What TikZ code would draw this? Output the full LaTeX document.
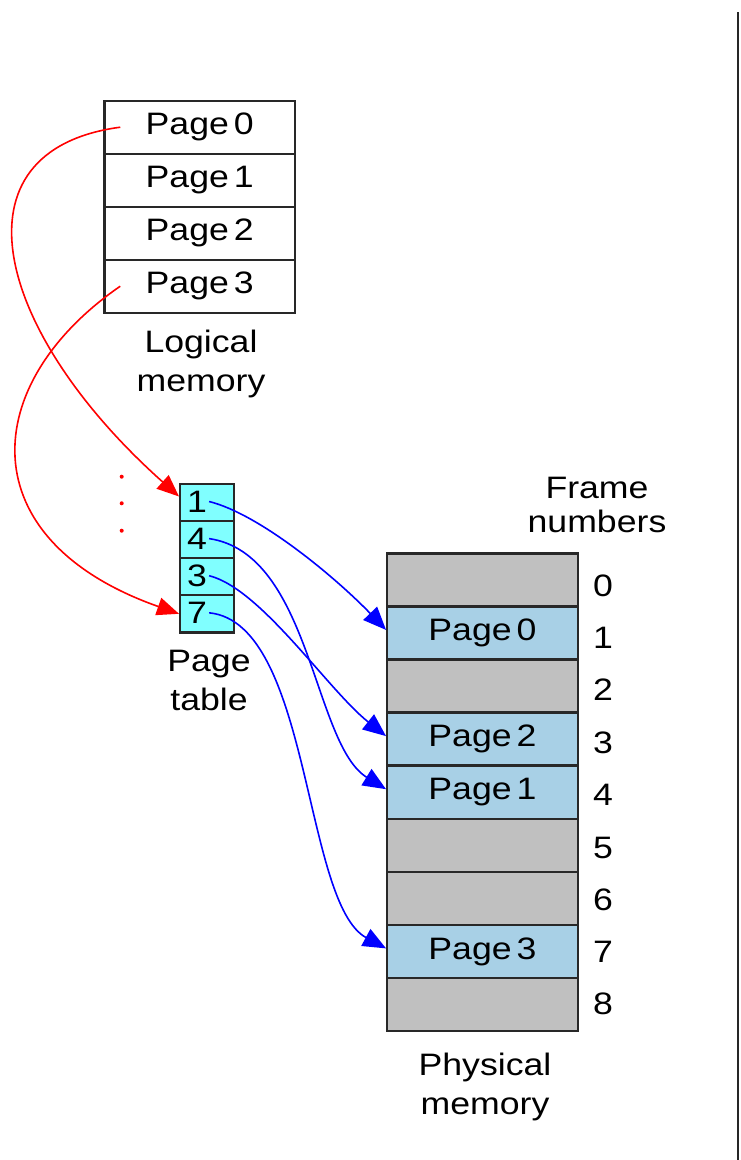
\documentclass[tikz,border=0pt]{standalone}
\usepackage{fontspec}
\setmainfont{Liberation Sans}[FakeStretch=1.15]
\usetikzlibrary{arrows.meta,calc}
\definecolor{bordc}{RGB}{40,40,40}
\definecolor{ptcyan}{RGB}{128,255,255}
\definecolor{pgray}{RGB}{192,192,192}
\definecolor{pblue}{RGB}{168,208,230}
\newcommand\myfs{\fontsize{31}{39}\selectfont\spaceskip=5pt\relax}
\newcommand\myfsb{\fontsize{31}{34}\selectfont}
\begin{document}
\begin{tikzpicture}[x=1pt,y=-1pt,
  box/.style={draw=bordc, line width=2.4pt, minimum width=190.5pt, minimum height=53pt, inner sep=0pt, font=\myfs},
  lbox/.style={box, fill=white},
  freebox/.style={box, fill=pgray},
  usedbox/.style={box, fill=pblue},
  ptcell/.style={draw=bordc, line width=2.4pt, fill=ptcyan, minimum width=54pt, minimum height=37.1pt, inner sep=0pt},
  digit/.style={font=\myfs, inner sep=0pt},
  lbl/.style={font=\myfs, inner sep=0pt, align=center, anchor=north},
  reddot/.style={circle, fill=red, inner sep=0pt, minimum size=4pt},
  redarr/.style={draw=red, line width=1.6pt, -{Triangle[length=22pt,width=18pt]}},
  bluearr/.style={draw=blue, line width=1.6pt, -{Triangle[length=23pt,width=19pt]}}
]
\useasboundingbox (0,0) rectangle (740,1160);

% Logical memory
\node[lbox] (L0) at (199.7,127.2) {Page 0};
\node[lbox] (L1) at (199.7,180.2) {Page 1};
\node[lbox] (L2) at (199.7,233.2) {Page 2};
\node[lbox] (L3) at (199.7,286.2) {Page 3};
\node[lbl] (Llbl) at (201,330) {Logical\\memory};

% Page table
\node[ptcell] (T0) at (207.2,502.5) {};
\node[ptcell] (T1) at (207.2,539.6) {};
\node[ptcell] (T2) at (207.2,576.7) {};
\node[ptcell] (T3) at (207.2,613.8) {};
\node[digit] (d0) at (197,501.5) {1};
\node[digit] (d1) at (197,538.6) {4};
\node[digit] (d2) at (197,575.7) {3};
\node[digit] (d3) at (197,612.8) {7};
\node[lbl] (Tlbl) at (209,650) {Page\\table};

\node[reddot] (dot1) at (121.7,476.7) {};
\node[reddot] (dot2) at (121.7,503.3) {};
\node[reddot] (dot3) at (121.7,530.7) {};

% Physical memory
\node[freebox] (F0) at (482.5,579.9) {};
\node[usedbox] (F1) at (482.5,632.9) {Page 0};
\node[freebox] (F2) at (482.5,686.0) {};
\node[usedbox] (F3) at (482.5,739.1) {Page 2};
\node[usedbox] (F4) at (482.5,792.2) {Page 1};
\node[freebox] (F5) at (482.5,845.3) {};
\node[freebox] (F6) at (482.5,898.4) {};
\node[usedbox] (F7) at (482.5,951.4) {Page 3};
\node[freebox] (F8) at (482.5,1004.5) {};

\node[font=\myfsb, inner sep=0pt, align=center, anchor=north] (Flbl) at (597,477) {Frame\\numbers};
\node[digit] (n0) at (603,586) {0};
\node[digit] (n1) at (603,638) {1};
\node[digit] (n2) at (603,690) {2};
\node[digit] (n3) at (603,742.5) {3};
\node[digit] (n4) at (603,795) {4};
\node[digit] (n5) at (603,847.5) {5};
\node[digit] (n6) at (603,899.5) {6};
\node[digit] (n7) at (603,951.5) {7};
\node[digit] (n8) at (603,1004) {8};
\node[lbl] (Plbl) at (485,1053) {Physical\\memory};

% Red arrows
\draw[redarr] ([xshift=17pt]L0.west) .. controls +(-172,23) and +(-185,-165) .. ([yshift=6pt]T0.west);
\draw[redarr] ([xshift=17pt]L3.west) .. controls +(-142,98) and +(-210,-74) .. (T3.west);

% Blue arrows
\draw[bluearr] ([xshift=2pt]d0.east) .. controls +(52,13) and +(-48,-50) .. ([yshift=3pt]F1.west);
\draw[bluearr] ([xshift=2pt]d1.east) .. controls +(102,15) and +(-73,-45) .. ([yshift=3pt]F4.west);
\draw[bluearr] ([xshift=2pt]d2.east) .. controls +(52,13) and +(-58,-46) .. ([yshift=3pt]F3.west);
\draw[bluearr] ([xshift=2pt]d3.east) .. controls +(102,10) and +(-83,-45) .. ([yshift=3pt]F7.west);

% right rule
\coordinate (vt) at (737.7,12);
\coordinate (vb) at (737.7,1160);
\draw[line width=2pt, black!85] (vt) -- (vb);
\end{tikzpicture}
\end{document}
